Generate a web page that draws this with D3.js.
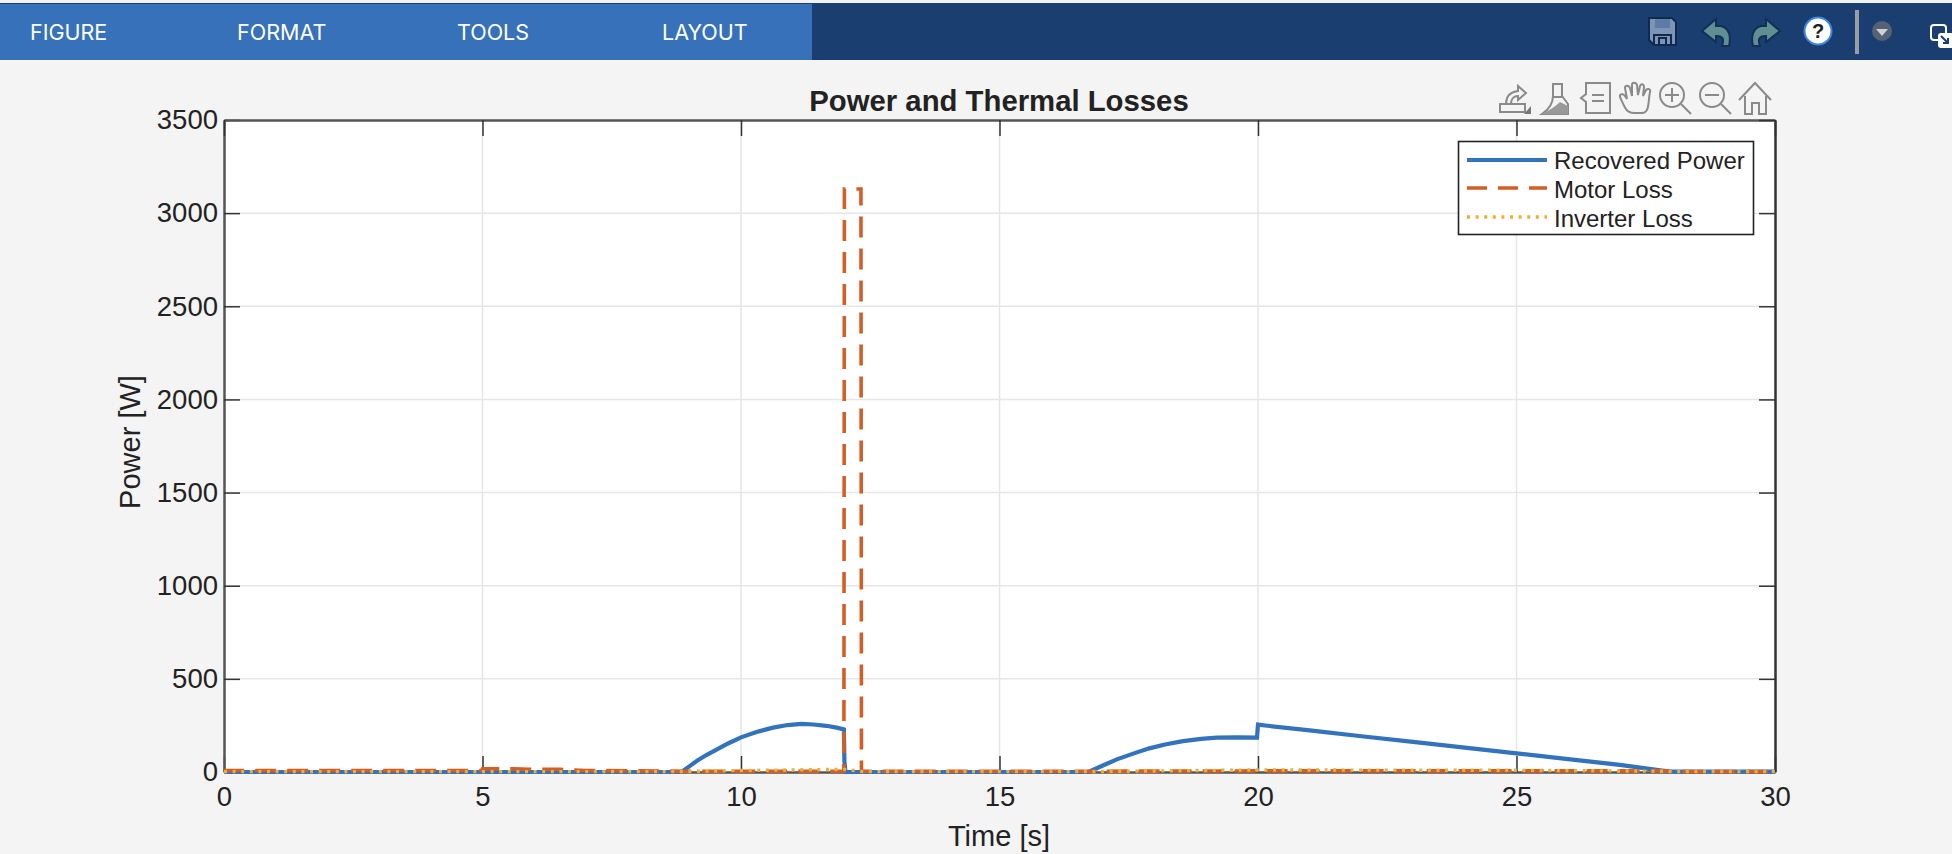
<!DOCTYPE html>
<html><head><meta charset="utf-8">
<script src="https://cdnjs.cloudflare.com/ajax/libs/d3/7.8.5/d3.min.js"></script>
<style>html,body{margin:0;padding:0;background:#f4f4f4;overflow:hidden}svg{display:block}text{font-family:"Liberation Sans",Arial,sans-serif;fill:#222}</style>
</head><body><svg id="c" width="1952" height="854"></svg>
<script>
// ---- data ----
const xTicks = [0,5,10,15,20,25,30];
const yTicks = [0,500,1000,1500,2000,2500,3000,3500];
const menuLabels = ["FIGURE","FORMAT","TOOLS","LAYOUT"];
const legendLabels = ["Recovered Power","Motor Loss","Inverter Loss"];
const recoveredT = [0,8.85,9.0,9.15,9.33,9.5,9.75,10,10.3,10.62,10.9,11.17,11.4,11.65,11.85,11.99,12.0,12.02,16.72,17,17.27,17.6,17.9,18.2,18.55,18.9,19.2,19.6,19.98,20.0,21,22,23,24,25,26,27,27.96,30];
const recoveredV = [0,0,30,60,91,116,153,186,215,238,252,258,255,248,238,229,60,0,0,35,68,100,127,148,166,178,184,186,184,254,223,192,162,131,100,69,38,2,2];
const motorT = [0,4.98,5.0,5.6,5.9,6.5,7.0,9,11.99,12.0,12.32,12.33,14,16.7,20,25,27.9,28,30];
const motorV = [8,8,17,17,14,14,8,4,4,3130,3130,4,4,4,6,6,6,2,2];
const inverterT = [0,8.8,10,11.9,12,12.35,16.7,20,25,27.9,28,30];
const inverterV = [2,2,8,14,14,2,2,11,9,4,2,2];

const W=1952,H=854;
const plot={l:224,r:1775,t:120,b:772};
const svg=d3.select("#c");
const x=d3.scaleLinear().domain([0,30]).range([plot.l,plot.r]);
const y=d3.scaleLinear().domain([0,3500]).range([plot.b,plot.t]);
const ink="#222";

// ---- top bar ----
svg.append("rect").attr("width",W).attr("height",4).attr("fill","#f2f2f2");
svg.append("rect").attr("y",3).attr("width",W).attr("height",57).attr("fill","#1a3e70");
svg.append("rect").attr("y",4).attr("width",812).attr("height",56).attr("fill","#3771b9");
const menuX=[30,237,457,662];
svg.selectAll(".menu").data(menuLabels).join("text").attr("class","menu")
 .attr("x",(d,i)=>menuX[i]).attr("y",40).attr("font-size",21.5).style("fill","#fff").style("font-family","Inter,Roboto,sans-serif").text(d=>d);

const tb=svg.append("g");
// save
tb.append("path").attr("d","M1649 18H1672L1676 22V45H1654L1649 40Z").attr("fill","#7b94b8").attr("stroke","#10294d").attr("stroke-width",2);
tb.append("rect").attr("x",1655).attr("y",19).attr("width",15).attr("height",9).attr("fill","#5d7ba6");
tb.append("path").attr("d","M1654 44V35H1671V44M1659 44V38H1666V44").attr("fill","none").attr("stroke","#10294d").attr("stroke-width",2);
// undo / redo
tb.append("path").attr("d","M1702 31L1716 19V26H1721C1730 28 1731 38 1729 46H1722C1724 40 1724 36 1716 36V42Z").attr("fill","#5f8f92").attr("stroke","#123055").attr("stroke-width",2);
tb.append("path").attr("d","M1780 31L1766 19V26H1761C1752 28 1751 38 1753 46H1760C1758 40 1758 36 1766 36V42Z").attr("fill","#5f8f92").attr("stroke","#123055").attr("stroke-width",2);
// help
tb.append("circle").attr("cx",1818).attr("cy",31).attr("r",13.5).attr("fill","#fff").attr("stroke","#3d86dc").attr("stroke-width",2);
tb.append("text").attr("x",1818).attr("y",38).attr("text-anchor","middle").attr("font-size",20).attr("font-weight","bold").text("?");
// divider + dropdown
tb.append("rect").attr("x",1855).attr("y",10).attr("width",4).attr("height",44).attr("fill","#9a9da3");
tb.append("circle").attr("cx",1882).attr("cy",31).attr("r",10).attr("fill","#566274");
tb.append("path").attr("d","M1876 29H1888L1882 36Z").attr("fill","#ccd2da");
// undock
tb.append("rect").attr("x",1931).attr("y",25).attr("width",15).attr("height",15).attr("rx",3).attr("fill","none").attr("stroke","#fff").attr("stroke-width",2);
tb.append("rect").attr("x",1938).attr("y",33).attr("width",16).attr("height",15).attr("rx",3).attr("fill","#fff");
tb.append("path").attr("d","M1941 36L1948 43M1948 38V43H1943").attr("fill","none").attr("stroke","#1a3e70").attr("stroke-width",2);

// ---- plot area ----
svg.append("rect").attr("x",plot.l).attr("y",plot.t).attr("width",plot.r-plot.l).attr("height",plot.b-plot.t).attr("fill","#fff");
const grid=svg.append("g").attr("stroke","#e6e6e6").attr("stroke-width",1.5);
grid.selectAll(".gx").data(xTicks.slice(1,-1)).join("line").attr("x1",d=>x(d)).attr("x2",d=>x(d)).attr("y1",plot.t).attr("y2",plot.b);
grid.selectAll(".gy").data(yTicks.slice(1,-1)).join("line").attr("y1",d=>y(d)).attr("y2",d=>y(d)).attr("x1",plot.l).attr("x2",plot.r);

function styleAxis(g,hide){
  g.select(".domain").attr("stroke","#555").attr("stroke-width",2.5);
  g.selectAll(".tick line").attr("stroke","#333").attr("stroke-width",1.5);
  g.selectAll("text").attr("font-size",27.5).style("fill",ink);
  if(hide) g.selectAll("text").remove();
}
const len=16;
const gb=svg.append("g").attr("transform",`translate(0,${plot.b})`).call(d3.axisBottom(x).tickValues(xTicks).tickFormat(d3.format("d")).tickSizeInner(-len).tickSizeOuter(0));
styleAxis(gb);
gb.selectAll("text").attr("dy","0.71em").attr("y",14);
const gl=svg.append("g").attr("transform",`translate(${plot.l},0)`).call(d3.axisLeft(y).tickValues(yTicks).tickFormat(d3.format("d")).tickSizeInner(-len).tickSizeOuter(0));
styleAxis(gl);
gl.selectAll("text").attr("x",-6);
const gt=svg.append("g").attr("transform",`translate(0,${plot.t})`).call(d3.axisTop(x).tickValues(xTicks).tickSizeInner(-len).tickSizeOuter(0));
styleAxis(gt,true);
const gr=svg.append("g").attr("transform",`translate(${plot.r},0)`).call(d3.axisRight(y).tickValues(yTicks).tickSizeInner(-len).tickSizeOuter(0));
styleAxis(gr,true);
gr.select(".domain").attr("stroke","#333");

// ---- series ----
svg.append("clipPath").attr("id","pc").append("rect").attr("x",plot.l).attr("y",plot.t).attr("width",plot.r-plot.l).attr("height",plot.b-plot.t+2);
const series=svg.append("g").attr("clip-path","url(#pc)");
const lineGen=d3.line().x(d=>x(d[0])).y(d=>y(d[1]));
const blue="#3372bd",orange="#d35f26",yellow="#eeb034";
const dash=[21,11],dots=[3,5.6];
const zipPts=(t,v)=>t.map((d,i)=>[d,v[i]]);
series.append("path").attr("d",lineGen(zipPts(recoveredT,recoveredV))).attr("fill","none").attr("stroke",blue).attr("stroke-width",4.2);
const motorPts=zipPts(motorT,motorV);
const motorPath=series.append("path").attr("d",lineGen(motorPts)).attr("fill","none").attr("stroke",orange).attr("stroke-width",3.6).attr("stroke-dasharray",dash.join(","));
// phase the dashes so a dash ends just past the first corner of the spike
const probe=svg.append("path").attr("d",lineGen(motorPts.slice(0,motorV.indexOf(3130)+1)));
const toCorner=probe.node().getTotalLength(); probe.remove();
const period=dash[0]+dash[1];
motorPath.attr("stroke-dashoffset",((dash[0]-1-toCorner)%period+period)%period);
series.append("path").attr("d",lineGen(zipPts(inverterT,inverterV))).attr("fill","none").attr("stroke",yellow).attr("stroke-width",3.4).attr("stroke-dasharray",dots.join(","));

// ---- text ----
svg.append("text").attr("x",999).attr("y",111).attr("text-anchor","middle").attr("font-size",29.3).attr("font-weight","bold").text("Power and Thermal Losses");
svg.append("text").attr("x",999).attr("y",846).attr("text-anchor","middle").attr("font-size",29).text("Time [s]");
svg.append("text").attr("transform","translate(140,442) rotate(-90)").attr("text-anchor","middle").attr("font-size",29).text("Power [W]");

// ---- legend ----
const lg=svg.append("g");
lg.append("rect").attr("x",1458.5).attr("y",141.5).attr("width",295).attr("height",93).attr("fill","#fff").attr("stroke","#222").attr("stroke-width",1.6);
const legendY=[160,189,218];
const legendStyle=[{c:blue,w:4.2,d:null},{c:orange,w:3.6,d:"20,11"},{c:yellow,w:3.4,d:"3,5.6"}];
lg.selectAll(".ll").data(legendLabels).join("line").attr("x1",1467).attr("x2",1547).attr("y1",(d,i)=>legendY[i]-(i==0?0:1)).attr("y2",(d,i)=>legendY[i]-(i==0?0:1))
  .attr("stroke",(d,i)=>legendStyle[i].c).attr("stroke-width",(d,i)=>legendStyle[i].w).attr("stroke-dasharray",(d,i)=>legendStyle[i].d);
lg.selectAll(".lt").data(legendLabels).join("text").attr("x",1554).attr("y",(d,i)=>legendY[i]+9).attr("font-size",24).text(d=>d);

// ---- axes toolbar icons ----
const ic=svg.append("g").attr("fill","none").attr("stroke","#8a8a8a").attr("stroke-width",2);
// export
ic.append("path").attr("d","M1500 112V104H1525V112ZM1506 104C1506 96 1510 92 1518 91V86L1526 93L1518 100V96C1513 96 1511 100 1511 104");
ic.append("path").attr("d","M1524 114H1531V106Z").attr("fill","#777").attr("stroke","none");
// brush
ic.append("path").attr("d","M1553 84H1562V96L1568 104V114H1542C1548 110 1553 104 1553 96ZM1553 97H1562");
ic.append("path").attr("d","M1542 114C1550 110 1556 106 1560 102L1568 106V114Z").attr("fill","#999").attr("stroke","none");
// legend
ic.append("path").attr("d","M1586 83H1610V113H1586V102L1581 98L1586 94ZM1592 95H1604M1592 101H1604");
// hand
ic.append("path").attr("d","M1634 113C1626 113 1624 106 1620 97C1619 94 1623 93 1625 96L1627 99L1625 88C1625 85 1629 85 1630 88L1632 96V85C1632 82 1636 82 1637 85L1638 95L1640 86C1641 83 1644 84 1644 87L1643 96L1646 90C1648 88 1651 89 1650 92C1648 100 1650 113 1642 113Z");
// zoom in/out
ic.append("circle").attr("cx",1672).attr("cy",95).attr("r",12);
ic.append("path").attr("d","M1681 104L1691 114M1672 88V102M1665 95H1679");
ic.append("circle").attr("cx",1712).attr("cy",95).attr("r",12);
ic.append("path").attr("d","M1721 104L1731 114M1705 95H1719");
// home
ic.append("path").attr("d","M1739 100L1755 83L1771 100M1745 96V114H1752V103H1759V114H1766V96");
</script></body></html>
